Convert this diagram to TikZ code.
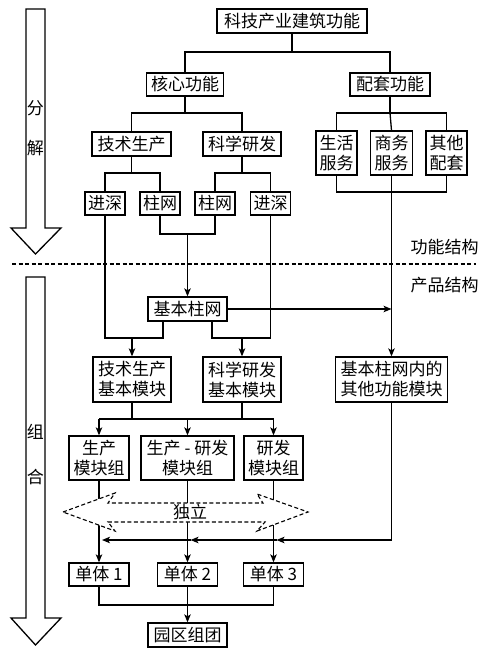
\documentclass[tikz,border=0pt]{standalone}
\usepackage{fontspec}
\setmainfont{Noto Sans CJK SC}
\usetikzlibrary{arrows.meta}
\newcommand\myfs{\fontsize{17pt}{20pt}\selectfont}
\begin{document}
\begin{tikzpicture}[x=1pt,y=-1pt,
  bx/.style={draw, line width=1.3pt, inner sep=0pt, align=center, font=\myfs},
  ln/.style={line width=1.3pt},
  ar/.style={line width=1.3pt, -{Stealth[length=8pt,width=6.5pt,inset=2pt]}},
  lbl/.style={font=\myfs, inner sep=0pt},
  bigarrow/.style={line width=1.3pt},
  dsh/.style={line width=1.1pt, dash pattern=on 4pt off 2.5pt},
]
\useasboundingbox (0,0) rectangle (492,653);

% ---- boxes ----
\node[bx, minimum width=150pt, minimum height=24pt] (top) at (292,21) {科技产业建筑功能};
\node[bx, minimum width=77pt, minimum height=23pt] (core) at (185,84.5) {核心功能};
\node[bx, minimum width=80pt, minimum height=23pt] (pt) at (390,84.5) {配套功能};
\node[bx, minimum width=79pt, minimum height=24pt] (js) at (131.5,144) {技术生产};
\node[bx, minimum width=78pt, minimum height=24pt] (kx) at (242,144) {科学研发};
\node[bx, minimum width=41pt, minimum height=44pt] (sh) at (336.5,153) {生活\\服务};
\node[bx, minimum width=42pt, minimum height=44pt] (sw) at (391.5,153) {商务\\服务};
\node[bx, minimum width=41pt, minimum height=44pt] (qt) at (446.5,153) {其他\\配套};
\node[bx, minimum width=40pt, minimum height=23pt] (jsA) at (105,203.5) {进深};
\node[bx, minimum width=40pt, minimum height=23pt] (zwA) at (160,203.5) {柱网};
\node[bx, minimum width=40pt, minimum height=23pt] (zwB) at (215,203.5) {柱网};
\node[bx, minimum width=40pt, minimum height=23pt] (jsB) at (270.5,203.5) {进深};
\node[bx, minimum width=79pt, minimum height=24pt] (jb) at (187.5,309) {基本柱网};
\node[bx, minimum width=78pt, minimum height=45pt] (jsm) at (132,379.5) {技术生产\\基本模块};
\node[bx, minimum width=78pt, minimum height=45pt] (kxm) at (242,379.5) {科学研发\\基本模块};
\node[bx, minimum width=112pt, minimum height=45pt] (qtm) at (391.5,379.5) {基本柱网内的\\其他功能模块};
\node[bx, minimum width=60pt, minimum height=44pt] (g1) at (99,458) {生产\\模块组};
\node[bx, minimum width=93pt, minimum height=44pt] (g2) at (187.5,458) {生产 - 研发\\模块组};
\node[bx, minimum width=59pt, minimum height=44pt] (g3) at (273.5,458) {研发\\模块组};
\node[bx, minimum width=60pt, minimum height=23pt] (d1) at (99,574.5) {单体 1};
\node[bx, minimum width=60pt, minimum height=23pt] (d2) at (187.5,574.5) {单体 2};
\node[bx, minimum width=60pt, minimum height=23pt] (d3) at (273.5,574.5) {单体 3};
\node[bx, minimum width=79pt, minimum height=24pt] (yq) at (187.5,635) {园区组团};

% ---- junction coordinates ----
\coordinate (b1) at (292,52);
\coordinate (b2) at (185,113);
\coordinate (b3) at (390,113);
\coordinate (b4) at (131.5,173);
\coordinate (b5) at (242,173);
\coordinate (b6) at (391.5,192);
\coordinate (b7) at (187.5,234);
\coordinate (m1) at (132,338);
\coordinate (m2) at (242,338);
\coordinate (jbL) at (163,321);
\coordinate (jbR) at (212,321);
\coordinate (h) at (187.5,419);
\coordinate (r0) at (391.5,540);
\coordinate (a3) at (276.5,540);
\coordinate (a2) at (190.5,540);
\coordinate (a1) at (102,540);
\coordinate (u) at (187.5,605);

% ---- connectors ----
\draw[ln] (top.south) -- (b1);
\draw[ln] (core.north) |- (b1) -| (pt.north);
\draw[ln] (core.south) -- (b2);
\draw[ln] (js.north) |- (b2) -| (kx.north);
\draw[ln] (pt.south) -- (b3);
\draw[ln] (sh.north) |- (b3) -| (qt.north);
\draw[ln] (b3) -- (sw.north);
\draw[ln] (js.south) -- (b4);
\draw[ln] (jsA.north) |- (b4) -| (zwA.north);
\draw[ln] (kx.south) -- (b5);
\draw[ln] (zwB.north) |- (b5) -| (jsB.north);
\draw[ln] (sh.south) |- (b6) -| (qt.south);
\draw[ln] (sw.south) -- (b6);
\draw[ar] (b6) -- (qtm.north);
\draw[ln] (zwA.south) |- (b7) -| (zwB.south);
\draw[ar] (b7) -- (jb.north);
\draw[ar] (jb.east) -- (jb.east -| qtm.north);
\draw[ln] (jsA.south) |- (m1) -| (jbL);
\draw[ln] (jsB.south) |- (m2) -| (jbR);
\draw[ar] (m1) -- (jsm.north);
\draw[ar] (m2) -- (kxm.north);
\draw[ln] (jsm.south) -- (jsm.south |- h);
\draw[ln] (kxm.south) -- (kxm.south |- h);
\draw[ln] (g1.north |- h) -- (g3.north |- h);
\draw[ar] (g1.north |- h) -- (g1.north);
\draw[ar] (h) -- (g2.north);
\draw[ar] (g3.north |- h) -- (g3.north);
\draw[ar] (g1.south) -- (d1.north);
\draw[ar] (g2.south) -- (d2.north);
\draw[ar] (g3.south) -- (d3.north);
\draw[ln] (qtm.south) -- (r0);
\draw[ar] (r0) -- (a3);
\draw[ar] (a3) -- (a2);
\draw[ar] (a2) -- (a1);
\draw[ln] (d1.south) |- (u) -| (d3.south);
\draw[ln] (d2.south) -- (u);
\draw[ar] (u) -- (yq.north);

% ---- dashed double arrow "独立" ----
\draw[dsh, fill=white] (63,512) -- (115,493) -- (108,503) -- (263,503) -- (257,494)
  -- (308,512) -- (257,531) -- (265,522) -- (108,522) -- (115,531) -- cycle;
\node[lbl] (dl) at (190,512) {独立};

% ---- separator ----
\coordinate (sL) at (12,264);
\coordinate (sR) at (476,264);
\draw[dsh] (sL) -- (sR);
\node[lbl] (gn) at (444.5,247) {功能结构};
\node[lbl] (cp) at (444.5,285) {产品结构};

% ---- big left arrows ----
\draw[bigarrow] (26,9) -- (45,9) -- (45,228) -- (61,228) -- (35.5,254) -- (11,228) -- (26,228) -- cycle;
\draw[bigarrow] (26,277) -- (45,277) -- (45,618) -- (61,618) -- (35.5,645) -- (11,618) -- (26,618) -- cycle;
\node[lbl] (fen) at (35.5,108) {分};
\node[lbl] (jie) at (35.5,148) {解};
\node[lbl] (zu) at (35.5,432) {组};
\node[lbl] (he) at (35.5,477) {合};
\end{tikzpicture}
\end{document}
